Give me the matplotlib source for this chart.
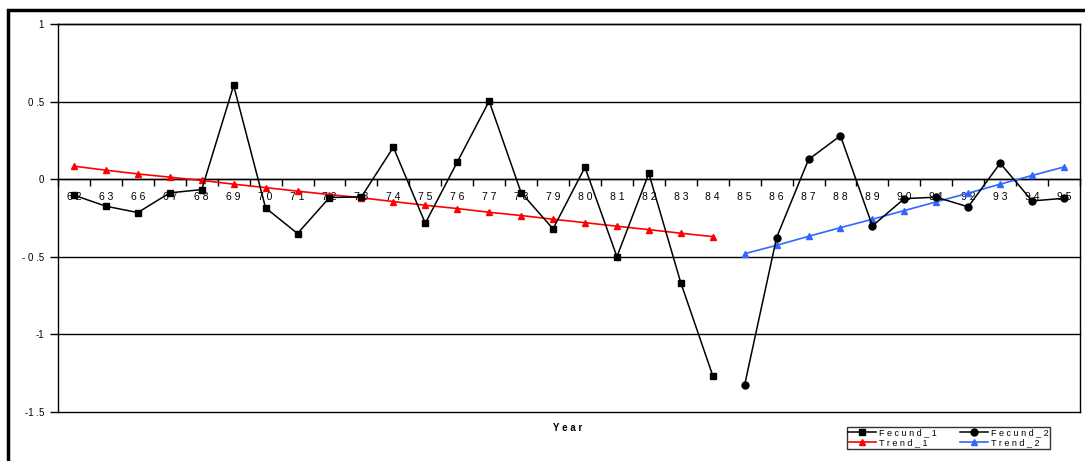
import matplotlib
matplotlib.use("Agg")
import matplotlib.pyplot as plt
from matplotlib.patches import Rectangle
import numpy as np

plt.rcParams["font.family"] = ["Liberation Sans", "DejaVu Sans"]

# --- data ---
years = ["62", "63", "66", "67", "68", "69", "70", "71", "72", "73", "74",
         "75", "76", "77", "78", "79", "80", "81", "82", "83", "84",
         "85", "86", "87", "88", "89", "90", "91", "92", "93", "94", "95"]

fecund_1 = [-0.103, -0.174, -0.215, -0.088, -0.067, 0.604, -0.185, -0.350,
            -0.118, -0.114, 0.206, -0.284, 0.110, 0.503, -0.086, -0.320,
            0.077, -0.499, 0.037, -0.667, -1.265]
trend_1 = [0.084, 0.058, 0.034, 0.013, -0.008, -0.032, -0.054, -0.077,
           -0.099, -0.120, -0.144, -0.168, -0.189, -0.213, -0.234, -0.258,
           -0.280, -0.303, -0.325, -0.348, -0.370]
fecund_2 = [-1.325, -0.376, 0.127, 0.280, -0.301, -0.125, -0.116, -0.178,
            0.103, -0.140, -0.123]
trend_2 = [-0.480, -0.426, -0.368, -0.312, -0.258, -0.202, -0.146, -0.090,
           -0.032, 0.024, 0.079]

y_ticks = [1, 0.5, 0, -0.5, -1, -1.5]
y_tick_labels = ["1", "0 .5", "0", "- 0 .5", "-1", "-1 .5"]

W, H = 1085, 461
fig = plt.figure(figsize=(W / 100, H / 100), dpi=100)
ax = fig.add_axes([58 / W, 1 - 412 / H, (1080 - 58) / W, (412 - 24) / H])

x = np.arange(len(years))
n1 = len(fecund_1)
x1 = x[:n1]
x2 = x[n1:]

ax.plot(x1, fecund_1, color="black", lw=1.1, marker="s", ms=5, label="Fecund_1", zorder=4)
ax.plot(x1, trend_1, color="#FF0000", lw=1.2, marker="^", ms=4.5, label="Trend_1", zorder=3)
ax.plot(x2, fecund_2, color="black", lw=1.1, marker="o", ms=5, label="Fecund_2", zorder=4)
ax.plot(x2, trend_2, color="#3366FF", lw=1.2, marker="^", ms=4.5, label="Trend_2", zorder=3)

ax.set_xlim(-0.5, len(years) - 0.5)
ax.set_ylim(-1.5, 1)

# gridlines at the y ticks (also close the plot area at top and bottom)
for yv in y_ticks:
    ax.axhline(yv, color="black", lw=1.0, zorder=1, clip_on=False)

for s in ["top", "right", "left"]:
    ax.spines[s].set_linewidth(1.0)
ax.spines["bottom"].set_position(("data", 0))
ax.spines["bottom"].set_linewidth(1.0)

ax.set_yticks(y_ticks)
ax.set_yticklabels(y_tick_labels)
ax.tick_params(axis="y", direction="out", length=6, width=1, labelsize=7, pad=4, colors="black")

ax.set_xticks(x)
ax.set_xticklabels([" ".join(y) for y in years])
ax.set_xticks(np.arange(len(years) + 1) - 0.5, minor=True)
ax.tick_params(axis="x", which="major", length=0, labelsize=7.5, pad=9)
ax.tick_params(axis="x", which="minor", direction="out", length=5, width=1)

fig.text(568 / W, 1 - 428 / H, "Y e a r", ha="center", va="center",
         fontsize=7, fontweight="bold")

h, l = ax.get_legend_handles_labels()
leg = fig.legend(h, [" ".join(s) for s in l],
                 ncol=2, loc="upper left",
                 bbox_to_anchor=(847 / W, 1 - 427 / H),
                 fontsize=6.5, frameon=True, fancybox=False, edgecolor="black",
                 handlelength=3.1, labelspacing=0.12, columnspacing=2.6,
                 borderpad=0.15, handletextpad=0.3, borderaxespad=0)
leg.get_frame().set_linewidth(1.0)

# outer chart border
fig.patches.append(Rectangle((8 / W, -0.2), 1.2, 1 - 10 / H + 0.2,
                             transform=fig.transFigure, fill=False,
                             edgecolor="black", lw=2.5, clip_on=False))

fig.savefig("out.png", dpi=100)
